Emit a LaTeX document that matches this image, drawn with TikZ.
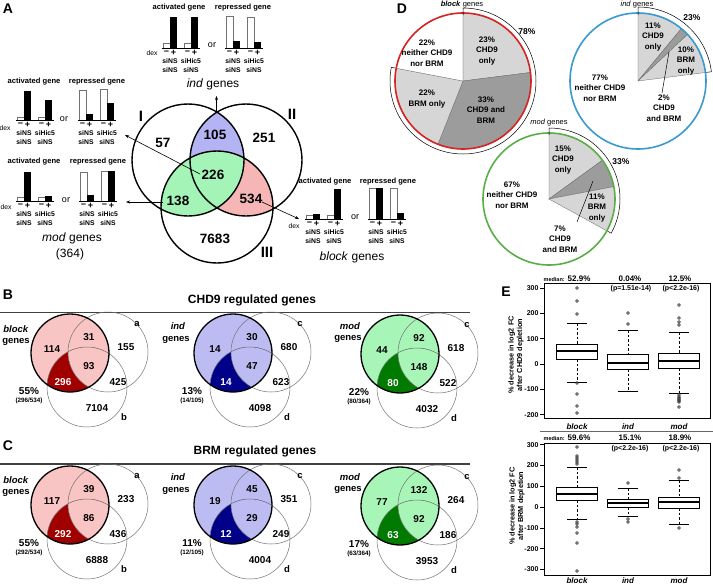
\documentclass[tikz,border=0pt]{standalone}
\usepackage{fontspec}
\setmainfont{Liberation Sans}
\usetikzlibrary{calc,arrows.meta}
\definecolor{vblue}{HTML}{B4B4F4}
\definecolor{vgreen}{HTML}{A4F4B8}
\definecolor{vpink}{HTML}{F6B6B6}
\definecolor{bpink}{HTML}{F8C4C4}
\definecolor{bred}{HTML}{A00000}
\definecolor{bblue}{HTML}{BCBCF2}
\definecolor{bnavy}{HTML}{000088}
\definecolor{bgreen}{HTML}{A8F5B8}
\definecolor{bdgreen}{HTML}{007A00}
\definecolor{plight}{HTML}{D6D6D6}
\definecolor{pdark}{HTML}{9C9C9C}
\definecolor{pred}{HTML}{D42424}
\definecolor{pblue}{HTML}{3A9AD0}
\definecolor{pgreen}{HTML}{5AAE48}
\newcommand\fsz[2]{\fontsize{#1}{#2}\selectfont}
\tikzset{
  every node/.style={inner sep=0pt, outer sep=0pt},
  plab/.style={font=\fsz{14}{16}\bfseries},
  roman/.style={font=\fsz{15}{17}\bfseries},
  nA/.style={font=\fsz{13.5}{15}\bfseries},
  gname/.style={font=\fsz{12}{14}},
  chtit/.style={font=\fsz{7.6}{8}\bfseries},
  pmsign/.style={font=\fsz{9}{9}\bfseries},
  silab/.style={font=\fsz{6.8}{8}\bfseries},
  dexl/.style={font=\fsz{6.8}{8}},
  orl/.style={font=\fsz{9}{10}},
  wbar/.style={draw=black!55, line width=0.5pt, fill=white},
  bbar/.style={fill=black},
  arr/.style={line width=0.6pt, -{Stealth[length=4pt,width=3pt]}},
  vn/.style={font=\fsz{10}{11}\bfseries},
  vl/.style={font=\fsz{9.5}{11}\bfseries},
  vp/.style={font=\fsz{10}{11}\bfseries},
  vf/.style={font=\fsz{6.3}{7}\bfseries},
  vname/.style={font=\fsz{9.5}{11}\bfseries},
  thinc/.style={draw=black!55, line width=0.5pt},
  btitle/.style={font=\fsz{12}{14}\bfseries},
  ptxt/.style={font=\fsz{8}{10.5}\bfseries, align=center},
  pname/.style={font=\fsz{7.5}{9}},
  ppct/.style={font=\fsz{8.5}{10}\bfseries},
  wline/.style={draw=black!60, line width=0.3pt},
  ticklab/.style={font=\fsz{7}{8}\bfseries, anchor=east},
  catlab/.style={font=\fsz{8}{9}\bfseries\itshape},
  ylab/.style={font=\fsz{7.3}{8.5}\bfseries, align=center, rotate=90},
  medlab/.style={font=\fsz{8}{9}\bfseries},
  pvlab/.style={font=\fsz{7}{8}\bfseries},
}
% bar chart: x0, baseline, four heights
\newcommand\bchart[6]{%
  \draw[wbar] ({#1+1},#2) rectangle ({#1+8},{#2-#3});
  \fill[bbar] ({#1+8},#2) rectangle ({#1+15},{#2-#4});
  \draw[wbar] ({#1+22},#2) rectangle ({#1+29},{#2-#5});
  \fill[bbar] ({#1+29},#2) rectangle ({#1+36},{#2-#6});
  \draw[line width=0.6pt] (#1,#2) -- ({#1+38},#2);
}
\newcommand\blab[2]{%
  \node[pmsign] at ({#1+4.5},{#2+5}) {−};
  \node[pmsign] at ({#1+11.5},{#2+5}) {+};
  \node[pmsign] at ({#1+25.5},{#2+5}) {−};
  \node[pmsign] at ({#1+32.5},{#2+5}) {+};
  \node[silab] at ({#1+8},{#2+13}) {siNS};
  \node[silab] at ({#1+29},{#2+13}) {siHic5};
  \node[silab] at ({#1+8},{#2+22}) {siNS};
  \node[silab] at ({#1+29},{#2+22}) {siNS};
}
% small venn (panels B, C)
\newcommand\vshape[4]{%
  \fill[#3] (#1,#2) circle[radius=39];
  \begin{scope}
    \clip (#1,#2) circle[radius=39];
    \clip ({#1+17},{#2+34}) circle[radius=40];
    \fill[#4] (#1,#2) circle[radius=45];
    \fill[#3] ({#1+38},{#2-1}) circle[radius=40];
  \end{scope}
  \draw[thinc] ({#1+38},{#2-1}) circle[radius=40] ({#1+17},{#2+34}) circle[radius=40];
  \draw[line width=1.3pt] (#1,#2) circle[radius=39];
}
\newcommand\vnums[9]{%
  \node[vn] at ({#1-18},{#2-4}) {#3};
  \node[vn] at ({#1+19},{#2-16}) {#4};
  \node[vn] at ({#1+56},{#2-6}) {#5};
  \node[vn] at ({#1+19},{#2+13}) {#6};
  \node[vn, white] at ({#1-7},{#2+29}) {#7};
  \node[vn] at ({#1+48},{#2+29}) {#8};
  \node[vn] at ({#1+27},{#2+55}) {#9};
}
\newcommand\vextra[6]{%
  \node[vl] at ({#1+67},{#2-29}) {#3};
  \node[vl] at ({#1+54},{#2+64}) {#4};
  \node[vp] at ({#1-41},{#2+38}) {#5};
  \node[vf] at ({#1-41},{#2+48}) {#6};
}
% pie wedge: center, radius, start, end, colour
\newcommand\pwedge[5]{%
  \filldraw[fill=#5, wline] (#1) -- ++(#3:#2pt) arc[start angle=#3, end angle=#4, radius=#2pt] -- cycle;
}
% boxplot: x, q3, q1, median, whisker top, whisker bottom
\newcommand\bxp[6]{%
  \draw[dash pattern=on 2.5pt off 2pt, line width=0.6pt] (#1,#5) -- (#1,#2) (#1,#3) -- (#1,#6);
  \draw[line width=0.6pt] ({#1-10},#5) -- ({#1+10},#5) ({#1-10},#6) -- ({#1+10},#6);
  \draw[line width=0.7pt, fill=white] ({#1-20.5},#2) rectangle ({#1+20.5},#3);
  \draw[line width=2.2pt] ({#1-20.5},#4) -- ({#1+20.5},#4);
}
\newcommand\outl[2]{\foreach \yy in {#2} {\draw[line width=0.6pt, black!75] (#1,\yy) circle[radius=1.4];}}

\begin{document}
\begin{tikzpicture}[x=1pt,y=-1pt]
\useasboundingbox (0,0) rectangle (713,587);
\fill[white] (0,0) rectangle (713,587);

% ================= Panel A =================
\node[plab] (labA) at (8,9) {A};
\coordinate (cI) at (188,160);
\coordinate (cII) at (246,160);
\coordinate (cIII) at (217,207);
\begin{scope}\clip (cI) circle[radius=56]; \fill[vblue] (cII) circle[radius=56];\end{scope}
\begin{scope}\clip (cII) circle[radius=56]; \fill[vpink] (cIII) circle[radius=56];\end{scope}
\begin{scope}\clip (cI) circle[radius=56]; \fill[vgreen] (cIII) circle[radius=56];\end{scope}
\draw[line width=1.4pt] (cI) circle[radius=56] (cII) circle[radius=56] (cIII) circle[radius=56];
\node[roman] (rI) at (141,116) {I};
\node[roman] (rII) at (292,114) {II};
\node[roman] (rIII) at (267,252) {III};
\node[nA] (n57) at (163,143) {57};
\node[nA] (n105) at (215,135) {105};
\node[nA] (n251) at (264,138) {251};
\node[nA] (n226) at (213,175) {226};
\node[nA] (n138) at (178,201) {138};
\node[nA] (n534) at (251,199) {534};
\node[nA] (n7683) at (215,239) {7683};

% arrows
\coordinate (a105s) at (216.5,113); \coordinate (a105e) at (216.5,96);
\coordinate (a226s) at (200,174); \coordinate (a226e) at (125,135);
\coordinate (a138s) at (163,202); \coordinate (a138e) at (126,202);
\coordinate (a534s) at (262,202); \coordinate (a534e) at (299,219);
\draw[arr] (a105s) -- (a105e);
\draw[arr] (a226s) -- (a226e);
\draw[arr] (a138s) -- (a138e);
\draw[arr] (a534s) -- (a534e);

% top (ind) charts
\node[chtit] (t1a) at (179,8) {activated gene};
\node[chtit] (t1r) at (243,8) {repressed gene};
\bchart{162}{48}{5}{31}{5}{31}\blab{162}{48}
\bchart{225}{48}{32}{7}{31}{6}\blab{225}{48}
\node[dexl] (dex1) at (152,53) {dex};
\node[orl] (or1) at (212,45) {or};
\node[gname] (gind) at (213,84) {\textit{ind} genes};

% upper-left charts
\node[chtit] (t2a) at (34,82) {activated gene};
\node[chtit] (t2r) at (97,82) {repressed gene};
\bchart{16}{120}{3}{29}{3}{20}\blab{16}{120}
\bchart{78}{120}{30}{6}{31}{17}\blab{78}{120}
\node[dexl] (dex2) at (5,128) {dex};
\node[orl] (or2) at (64,119) {or};

% mod charts
\node[chtit] (t3a) at (34,162) {activated gene};
\node[chtit] (t3r) at (98,162) {repressed gene};
\bchart{16}{201}{4}{29}{4}{5}\blab{16}{201}
\bchart{79}{201}{29}{6}{30}{30}\blab{79}{201}
\node[dexl] (dex3) at (6,207) {dex};
\node[orl] (or3) at (66,200) {or};
\node[gname] (gmod) at (72,238) {\textit{mod} genes};
\node[gname] (gmodn) at (70,254) {(364)};

% block charts
\node[chtit] (t4a) at (325,182) {activated gene};
\node[chtit] (t4r) at (388,182) {repressed gene};
\bchart{305}{219}{4}{5}{4}{30}\blab{305}{219}
\bchart{368}{219}{31}{31}{31}{6}\blab{368}{219}
\node[dexl] (dex4) at (294,226) {dex};
\node[orl] (or4) at (355,217) {or};
\node[gname] (gblock) at (352,257) {\textit{block} genes};

% ================= Panel B =================
\node[plab] (labB) at (8,295) {B};
\node[btitle] (titB) at (252,300) {CHD9 regulated genes};
\draw[line width=1.8pt, black!75] (0,312.5) -- (470,312.5);
\vshape{70}{353}{bpink}{bred}
\vnums{70}{353}{114}{31}{155}{93}{296}{425}{7104}
\vextra{70}{353}{a}{b}{55\%}{(296/534)}
\node[vname] (bB1) at (16,329) {\textit{block}};
\node[vname] (bB2) at (16,342) {genes};
\vshape{233}{353}{bblue}{bnavy}
\vnums{233}{353}{14}{30}{680}{47}{14}{623}{4098}
\vextra{233}{353}{c}{d}{13\%}{(14/105)}
\node[vname] (iB1) at (178,326) {\textit{ind}};
\node[vname] (iB2) at (176,340) {genes};
\vshape{400}{354}{bgreen}{bdgreen}
\vnums{400}{354}{44}{92}{618}{148}{80}{522}{4032}
\vextra{400}{354}{c}{d}{22\%}{(80/364)}
\node[vname] (mB1) at (350,326) {\textit{mod}};
\node[vname] (mB2) at (348,339) {genes};

% ================= Panel C =================
\node[plab] (labC) at (8,446) {C};
\node[btitle] (titC) at (255,451) {BRM regulated genes};
\draw[line width=1.8pt, black!75] (0,464) -- (470,464);
\vshape{70}{505}{bpink}{bred}
\vnums{70}{505}{117}{39}{233}{86}{292}{436}{6888}
\vextra{70}{505}{a}{b}{55\%}{(292/534)}
\node[vname] (bC1) at (16,480) {\textit{block}};
\node[vname] (bC2) at (16,493) {genes};
\vshape{233}{505}{bblue}{bnavy}
\vnums{233}{505}{19}{45}{351}{29}{12}{249}{4004}
\vextra{233}{505}{c}{d}{11\%}{(12/105)}
\node[vname] (iC1) at (178,477) {\textit{ind}};
\node[vname] (iC2) at (176,491) {genes};
\vshape{400}{506}{bgreen}{bdgreen}
\vnums{400}{506}{77}{132}{264}{92}{63}{186}{3953}
\vextra{400}{506}{c}{d}{17\%}{(63/364)}
\node[vname] (mC1) at (350,477) {\textit{mod}};
\node[vname] (mC2) at (348,490) {genes};

% ================= Panel D =================
\node[plab] (labD) at (402,9) {D};
% block pie
\coordinate (pb) at (463,81);
\pwedge{pb}{68}{90}{7.2}{plight}
\pwedge{pb}{68}{7.2}{-111.6}{pdark}
\pwedge{pb}{68}{-111.6}{-190.8}{plight}
\pwedge{pb}{68}{-190.8}{-270}{white}
\draw[pred, line width=1.6pt] (pb) circle[radius=68];
\draw[line width=0.5pt] ($(pb)+(90:66pt)$) -- ($(pb)+(90:73pt)$) arc[start angle=90, end angle=-190.8, radius=73pt] -- ($(pb)+(-190.8:69pt)$);
\node[pname] (pbn) at (462,5) {\textit{\textbf{block}} genes};
\node[ppct] (pb78) at (527,32) {78\%};
\node[ptxt] (pbt1) at (487,51) {23\%\\CHD9\\only};
\node[ptxt] (pbt2) at (486,110) {33\%\\CHD9 and\\BRM};
\node[ptxt] (pbt3) at (427,53) {22\%\\neither CHD9\\nor BRM};
\node[ptxt] (pbt4) at (427,99) {22\%\\BRM only};
% ind pie
\coordinate (pi) at (638,81);
\pwedge{pi}{68}{90}{50.4}{plight}
\pwedge{pi}{68}{50.4}{43.2}{pdark}
\pwedge{pi}{68}{43.2}{7.2}{plight}
\draw[pblue, line width=1.6pt] (pi) circle[radius=68];
\draw[line width=0.5pt] ($(pi)+(90:66pt)$) -- ($(pi)+(90:74pt)$) arc[start angle=90, end angle=7.2, radius=74pt] -- ($(pi)+(7.2:69pt)$);
\node[pname] (pin) at (637,5) {\textit{ind} genes};
\node[ppct] (pi23) at (692,18) {23\%};
\node[ptxt] (pit1) at (653,37) {11\%\\CHD9\\only};
\node[ptxt] (pit2) at (686,61) {10\%\\BRM\\only};
\node[ptxt] (pit3) at (600,88) {77\%\\neither CHD9\\nor BRM};
\node[ptxt] (pit4) at (664,108) {2\%\\CHD9\\and BRM};
\coordinate (lis) at (669,52); \coordinate (lie) at (662,93);
\draw[line width=0.5pt] (lis) -- (lie);
% mod pie
\coordinate (pm) at (549,199);
\pwedge{pm}{66}{90}{36}{plight}
\pwedge{pm}{66}{36}{10.8}{pdark}
\pwedge{pm}{66}{10.8}{-28.8}{plight}
\draw[pgreen, line width=1.6pt] (pm) circle[radius=66];
\draw[line width=0.5pt] ($(pm)+(90:64pt)$) -- ($(pm)+(90:71pt)$) arc[start angle=90, end angle=-28.8, radius=71pt] -- ($(pm)+(-28.8:67pt)$);
\node[pname] (pmn) at (549,123) {\textit{mod} genes};
\node[ppct] (pm33) at (621,162) {33\%};
\node[ptxt] (pmt1) at (563,160) {15\%\\CHD9\\only};
\node[ptxt] (pmt2) at (512,195) {67\%\\neither CHD9\\nor BRM};
\node[ptxt] (pmt3) at (597,208) {11\%\\BRM\\only};
\node[ptxt] (pmt4) at (560,239) {7\%\\CHD9\\and BRM};
\coordinate (lms) at (593,181); \coordinate (lme) at (577,222);
\draw[line width=0.5pt] (lms) -- (lme);

% ================= Panel E =================
\node[plab] (labE) at (506,292) {E};
% top plot
\node[medlab] (m1a) at (567,279) {{\fsz{5.5}{6}median:} 52.9\%};
\node[medlab] (m1b) at (630,279) {0.04\%};
\node[medlab] (m1c) at (680,279) {12.5\%};
\node[pvlab] (p1b) at (631,289) {(p=1.51e-14)};
\node[pvlab] (p1c) at (681,289) {(p<2.2e-16)};
\draw[line width=0.6pt] (544,283) rectangle (710,418);
\foreach \v in {-200,-100,0,100,200,300} {
  \draw[line width=0.6pt] (540,{364-0.253*\v}) -- (544,{364-0.253*\v});
  \node[ticklab] at (538.5,{364-0.253*\v}) {\v};
}
\node[ylab] (y1) at (516,355) {\% decrease in log2 FC\\after CHD9 depletion};
\bxp{577}{344}{359}{351}{323}{382}
\bxp{628}{354}{369}{363}{330}{391}
\bxp{679}{353}{368}{361}{332}{393}
\outl{577}{288,301,314,383,394,406,413}
\outl{628}{313,324}
\outl{679}{305,318,322,325,395,397,398,399,400,401,402,407}
\node[catlab] (c1a) at (577,427) {block};
\node[catlab] (c1b) at (628,427) {ind};
\node[catlab] (c1c) at (679,427) {mod};
\draw[line width=0.6pt, black!60] (540,431) -- (713,431);
% bottom plot
\node[medlab] (m2a) at (567,438) {{\fsz{5.5}{6}median:} 59.6\%};
\node[medlab] (m2b) at (630,438) {15.1\%};
\node[medlab] (m2c) at (680,438) {18.9\%};
\node[pvlab] (p2b) at (630,449) {(p<2.2e-16)};
\node[pvlab] (p2c) at (681,449) {(p<2.2e-16)};
\draw[line width=0.6pt] (544,443) rectangle (710,575);
\foreach \v in {-300,-200,-100,0,100,200,300} {
  \draw[line width=0.6pt] (540,{507-0.208*\v}) -- (544,{507-0.208*\v});
  \node[ticklab] at (538.5,{507-0.208*\v}) {\v};
}
\node[ylab] (y2) at (517,506) {\% decrease in log2 FC\\after BRM depletion};
\bxp{577}{487}{500}{494}{467}{519}
\bxp{628}{499}{507}{503}{488}{516}
\bxp{679}{497}{508}{502}{480}{524}
\outl{577}{447,456,458,460,462,464,522,524,527,533,543,571}
\outl{628}{483,519,522}
\outl{679}{470,478,528}
\node[catlab] (c2a) at (577,581) {block};
\node[catlab] (c2b) at (628,581) {ind};
\node[catlab] (c2c) at (679,581) {mod};
\end{tikzpicture}
\end{document}
